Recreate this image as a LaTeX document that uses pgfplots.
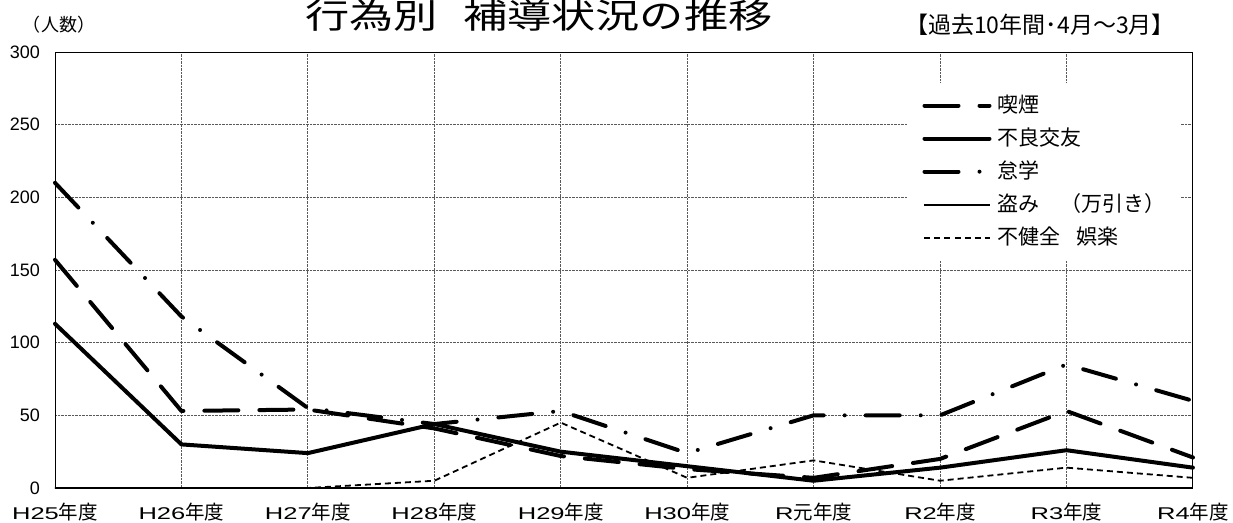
\documentclass[border=0pt]{standalone}
\usepackage{fontspec}
\setmainfont{Liberation Sans}
\newfontfamily\jp{Noto Sans CJK JP}
\newfontfamily\jpw[FakeStretch=1.3]{Noto Sans CJK JP}
\newfontfamily\xl[FakeStretch=1.5]{Liberation Sans}
\usepackage{pgfplots}
\pgfplotsset{compat=1.18}

\pgfplotstableread{
x kitsuen furyo taigaku nusumi fukenzen
0 157 113 210 0 0
1 53  30  118 0 0
2 54  24  55  0 0
3 41  44  44  0 5
4 22  25  53  0 45
5 13  15  24  0 7
6 7   5   50  0 19
7 20  14  50  0 5
8 53  26  85  0 14
9 21  14  60  0 7
}\datatable

\newcommand{\xlab}[2]{{\fontsize{17}{20}\selectfont\xl #1}{\jp\fontsize{19.5}{22}\selectfont #2}}

\begin{document}
\begin{tikzpicture}[x=1pt,y=1pt]
\path[use as bounding box] (0,0) rectangle (1233,522);
\begin{axis}[
  at={(55pt,34pt)}, anchor=south west,
  width=1138pt, height=436pt, scale only axis,
  xmin=0, xmax=9, ymin=0, ymax=300,
  xtick={0,...,9},
  xticklabels={
    \xlab{H25}{年度},\xlab{H26}{年度},\xlab{H27}{年度},\xlab{H28}{年度},\xlab{H29}{年度},
    \xlab{H30}{年度},\xlab{R}{元年度},\xlab{R2}{年度},\xlab{R3}{年度},\xlab{R4}{年度}},
  ytick={0,50,...,300},
  grid=major,
  major grid style={densely dotted, draw=black!65, line width=0.9pt},
  major tick length=0pt,
  tick style={draw=none},
  axis line style={black, line width=0.9pt},
  /pgf/number format/assume math mode=true,
  yticklabel style={font=\fontsize{18}{20}\selectfont, anchor=east, inner sep=0pt, xshift=-15pt},
  xticklabel style={anchor=north, inner sep=0pt, yshift=-15pt},
  clip=false,
  legend cell align=left,
  legend image code/.code={\draw[#1] (0pt,0pt) -- (65pt,0pt);},
  legend style={at={(rel axis cs:0.749,0.929)}, anchor=north west, draw=none, fill=white,
    font=\jp\fontsize{21}{24}\selectfont, inner xsep=15pt, inner ysep=12pt,
    row sep=12pt, column sep=6pt,
    nodes={inner sep=0pt, text height=17pt, text depth=4pt}},
]
\addplot[black, line width=4pt, line cap=round, line join=round, dash pattern=on 34pt off 21pt]
  table[x=x, y=kitsuen] {\datatable};
\addlegendentry{喫煙}
\addplot[black, line width=4pt, line cap=round, line join=round]
  table[x=x, y=furyo] {\datatable};
\addlegendentry{不良交友}
\addplot[black, line width=4pt, line cap=round, line join=round, dash pattern=on 34pt off 21pt on 0pt off 21pt]
  table[x=x, y=taigaku] {\datatable};
\addlegendentry{怠学}
\addplot[black, line width=1.8pt]
  table[x=x, y=nusumi] {\datatable};
\addlegendentry{盗み　（万引き）}
\addplot[black, line width=1.8pt, dash pattern=on 6pt off 4pt]
  table[x=x, y=fukenzen] {\datatable};
\addlegendentry{不健全\hspace{0.75em}娯楽}
\end{axis}
\node[anchor=base, font=\jpw\fontsize{34}{38}\selectfont] at (539,493) {行為別\hspace{25pt}補導状況の推移};
\node[anchor=center, font=\jp\fontsize{18}{20}\selectfont] at (59,497) {（人数）};
\node[anchor=center, font=\jp\fontsize{23}{26}\selectfont] at (1040,497) {【過去10年間･4月～3月】};
\end{tikzpicture}
\end{document}
